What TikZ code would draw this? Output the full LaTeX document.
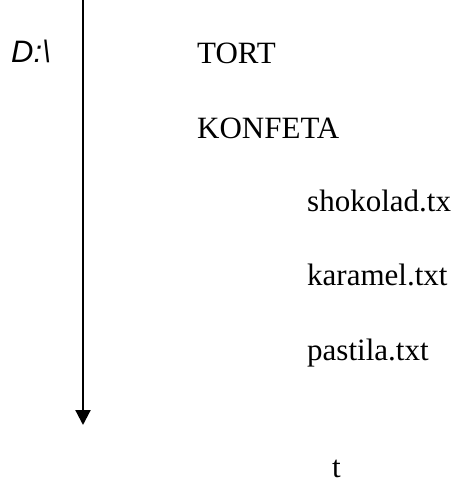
\documentclass[tikz,border=0pt]{standalone}
\usepackage{fontspec}
\setmainfont{Liberation Serif}
\newfontfamily\dsans{Liberation Sans}
\usetikzlibrary{arrows.meta}
\begin{document}
\begin{tikzpicture}[x=1pt,y=1pt,
  lbl/.style={anchor=base west,inner sep=0pt,font=\fontsize{31}{37}\selectfont},
  drive/.style={anchor=base west,inner sep=0pt,font=\dsans\itshape\fontsize{31}{37}\selectfont},
  axis/.style={line width=2.2pt,-{Triangle[length=15pt,width=15pt]}}]
\useasboundingbox (0,0) rectangle (457,-483);
\coordinate (top) at (83,0);
\coordinate (bot) at (83,-425);
\draw[axis] (top) -- (bot);
\node[drive] (d) at (11,-62) {D:\textbackslash};
\node[lbl] (tort) at (197,-63) {TORT};
\node[lbl] (konf) at (197,-138) {KONFETA};
\node[lbl] (shok) at (307,-211) {shokolad.tx};
\node[lbl] (kar) at (307,-285) {karamel.txt};
\node[lbl] (past) at (307,-360) {pastila.txt};
\node[lbl] (t) at (332,-477) {t};
\end{tikzpicture}
\end{document}
